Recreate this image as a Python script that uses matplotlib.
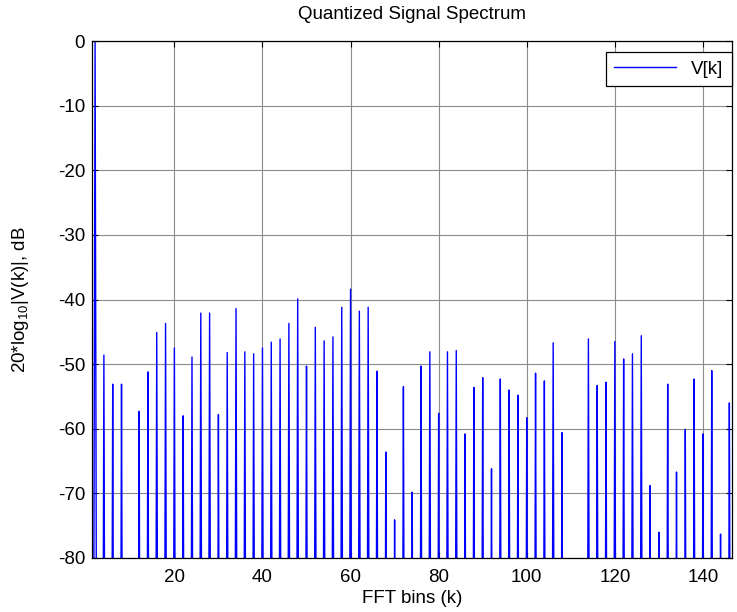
import numpy as np
import matplotlib
matplotlib.use('Agg')
import matplotlib.pyplot as plt

plt.rcParams['font.family'] = ['Liberation Sans', 'DejaVu Sans']
plt.rcParams['mathtext.fontset'] = 'custom'
plt.rcParams['mathtext.rm'] = 'Liberation Sans'
plt.rcParams['mathtext.it'] = 'Liberation Sans:italic'
plt.rcParams['axes.unicode_minus'] = False

# harmonic levels (dB) at even bins 2, 4, ..., 146 ; odd bins sit far below the plot
even_bins = list(range(2, 147, 2))
peaks_db = [0.0, -48.6, -53.1, -53.1, -100.0, -57.3, -51.2, -45.1, -43.7, -47.5,
            -58.0, -48.9, -42.1, -42.1, -57.8, -48.2, -41.4, -48.1, -48.4, -47.5,
            -46.6, -46.1, -43.7, -39.9, -50.3, -44.3, -46.4, -45.8, -41.2, -38.4,
            -41.8, -41.2, -51.1, -63.6, -74.1, -53.5, -69.8, -50.3, -48.1, -57.6,
            -48.1, -47.9, -60.8, -53.6, -52.1, -66.2, -52.3, -54.0, -54.8, -58.3,
            -51.4, -52.6, -46.7, -60.6, -100.0, -100.0, -46.1, -53.3, -52.8, -46.5,
            -49.2, -48.4, -45.6, -68.8, -76.0, -53.1, -66.7, -60.1, -52.3, -60.8,
            -51.0, -76.3, -56.0]
floor_db = -300.0
n_bins = 147

k = np.arange(1, n_bins + 1)
v = np.full(n_bins, floor_db)
v[np.array(even_bins) - 1] = peaks_db

fig = plt.figure(figsize=(7.37, 6.12), dpi=100)
W, H = 737, 612
x0, x1, y0, y1 = 92, 732, 41, 558
ax = fig.add_axes([x0 / W, 1 - y1 / H, (x1 - x0) / W, (y1 - y0) / H])

ax.plot(k, v, color='#0000ff', lw=1.0, label='V[k]')
ax.set_xlim(1.3, 146.6)
ax.set_ylim(-80, 0)
ax.set_xticks(np.arange(20, 141, 20))
ax.set_yticks(np.arange(-80, 1, 10))
ax.grid(True, color='0.55', lw=0.8)
ax.set_axisbelow(True)
ax.tick_params(direction='in', length=4, top=True, right=True, labelsize=13.5, width=0.8)
ax.tick_params(axis='x', pad=8)
ax.tick_params(axis='y', pad=5)
for s in ax.spines.values():
    s.set_linewidth(0.9)
    s.set_color('k')

ax.set_title('Quantized Signal Spectrum', fontsize=13.5, pad=16)
ax.set_xlabel('FFT bins (k)', fontsize=13.5, labelpad=3)
ax.set_ylabel(r'20*log$_{10}$|V(k)|, dB', fontsize=13.5)
ax.yaxis.label.set_va('center')
ax.yaxis.set_label_coords(-0.111, 0.5)

leg = ax.legend(loc='upper right', bbox_to_anchor=(1.0, 1 - 11 / 517), borderaxespad=0,
                fontsize=13.5, handlelength=3.3, fancybox=False, framealpha=1,
                edgecolor='k', borderpad=0.45)
leg.get_frame().set_linewidth(0.9)

plt.savefig('out.png', dpi=100)
plt.close()
